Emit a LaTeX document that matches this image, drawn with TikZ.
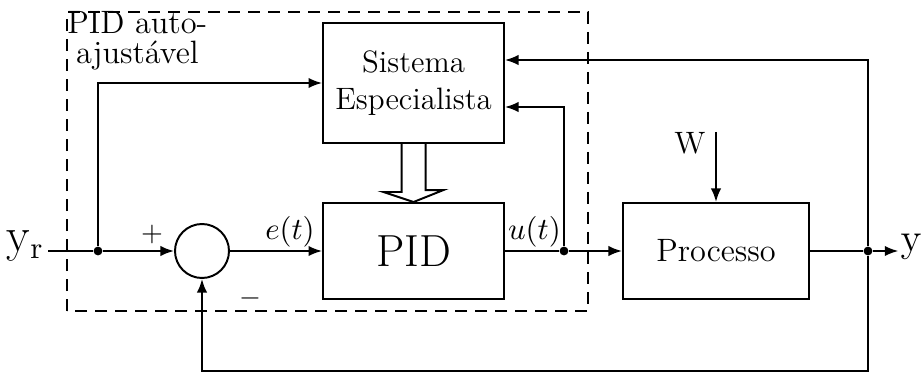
\documentclass[tikz,border=0pt]{standalone}
\usetikzlibrary{arrows.meta,calc}
\begin{document}
\begin{tikzpicture}[x=1mm,y=1mm,line width=0.7pt,
  blk/.style={draw,minimum width=22.6mm,minimum height=12mm,inner sep=0pt},
  sig/.style={-{Latex[length=1.7mm,width=1.3mm]}},
  jdot/.style={circle,fill,inner sep=0pt,minimum size=1.1mm}]
  \useasboundingbox (0,0) rectangle (115.5,46.75);
  % dashed frame round the self-tuning part
  \draw[dash pattern=on 1.5mm off 1mm] (8.375,7.875) rectangle (73.5,45.25);
  \node[anchor=north west,align=left,inner sep=0pt,font=\fontsize{11.5}{10.6}\selectfont] (lbl) at (8.3,45.4){PID auto-\\\hspace*{1.1mm}ajust\'avel};
  % blocks
  \node[blk,minimum height=15mm,align=center,font=\fontsize{11}{13}\selectfont] (ses) at (51.69,36.375){Sistema\\Especialista};
  \node[blk,font=\fontsize{16}{19}\selectfont] (pid) at (51.69,15.375){PID};
  \node[blk,minimum width=23.25mm,font=\fontsize{11.5}{13}\selectfont] (proc) at (89.5,15.375){Processo};
  \node[circle,draw,minimum size=6.75mm,inner sep=0pt] (sum) at (25.25,15.375){};
  % signals
  \node[anchor=base east,inner sep=0.4mm,font=\fontsize{16}{18}\selectfont] (yr) at (6,15.375){$\mathrm{y_r}$};
  \node[anchor=base west,inner sep=0.15mm,font=\fontsize{15}{18}\selectfont] (yo) at (112.3,15.375){$\mathrm{y}$};
  \node[font=\fontsize{11}{12}\selectfont] (w) at (86.25,28.9){W};
  \node[font=\fontsize{11}{13}\selectfont] (e) at (36.25,17.75){$e(t)$};
  \node[font=\fontsize{11}{13}\selectfont] (u) at (66.8,17.75){$u(t)$};
  \node[font=\fontsize{10}{12}\selectfont] (plus) at (19,17.5){$+$};
  \node[font=\fontsize{10}{12}\selectfont] (minus) at (31.25,9.5){$-$};
  \node[jdot] (jr) at (12.25,15.375){};
  \node[jdot] (ju) at (70.5,15.375){};
  \node[jdot] (jy) at (108.5,15.375){};
  \coordinate (fb) at (108.5,0.375);
  \coordinate (wtop) at (proc.north |- 0,30.25);
  % connectors
  \draw (yr.base east) -- (jr);
  \draw[sig] (jr) -- (sum.west);
  \draw[sig] (jr) |- (ses.west);
  \draw[sig] (sum.east) -- (pid.west);
  \draw (pid.east) -- (ju);
  \draw[sig] (ju) -- (proc.west);
  \draw[sig] (ju) |- ($(ses.east)+(0,-3)$);
  \draw (proc.east) -- (jy);
  \draw[sig] (jy) -- (yo.west |- jy);
  \draw[sig] (jy) |- ($(ses.east)+(0,2.875)$);
  \draw[sig] (jy) -- (fb) -| (sum.south);
  \draw[sig] (wtop) -- (proc.north);
  % hollow arrow from expert system to PID
  \draw ($(ses.south)+(-1.5,0)$) -- ++(0,-6) -- ++(-2.25,0) -- (pid.north) -- ++(3.75,1.5) -- ++(-2.25,0) -- ++(0,6);
\end{tikzpicture}
\end{document}
